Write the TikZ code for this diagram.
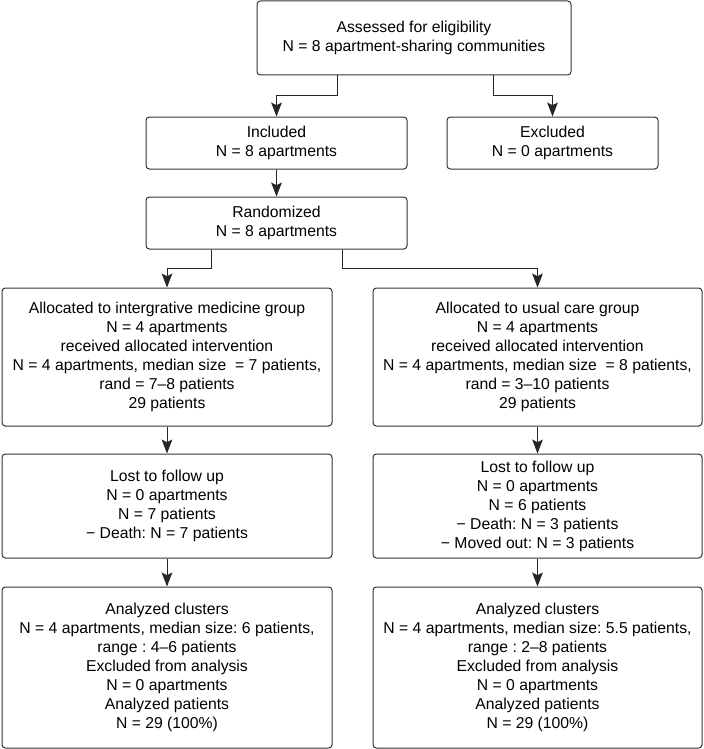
\documentclass[tikz,border=0pt]{standalone}
\usepackage{fontspec}
\setmainfont{Liberation Sans}
\usetikzlibrary{calc,arrows.meta}
\frenchspacing

\tikzset{
	flowbox/.style={draw=black!80, line width=0.75pt, rounded corners=2.5pt, fill=white,
		align=center, inner sep=0pt, font=\fontsize{11.8}{14.25}\selectfont},
	flowarrow/.style={draw=black!85, line width=0.75pt, -{Stealth[length=10.5pt,width=8pt,inset=2pt]}}
}

\begin{document}
\begin{tikzpicture}[x=0.75pt, y=0.75pt]
		%%%%% START %%%%%
		
		\useasboundingbox (0, 0) rectangle (703, -749);
		
		\node[flowbox, minimum width=235.5pt, minimum height=55.5pt] (assess) at (414, -38)
			{Assessed for eligibility\\N = 8 apartment-sharing communities};
		
		\node[flowbox, minimum width=195.75pt, minimum height=39pt] (incl) at (276.5, -143)
			{Included\\N = 8 apartments};
		\node[flowbox, minimum width=158.25pt, minimum height=39pt] (excl) at (552.5, -143)
			{Excluded\\N = 0 apartments};
		
		\node[flowbox, minimum width=195.75pt, minimum height=39pt] (rand) at (276.5, -223)
			{Randomized\\N = 8 apartments};
		
		\node[flowbox, minimum width=247.5pt, minimum height=103.5pt] (allocL) at (167, -357)
			{Allocated to intergrative medicine group\\N = 4 apartments\\received allocated intervention\\
			 N = 4 apartments, median size\ \ = 7 patients,\\rand = 7–8 patients\\29 patients};
		\node[flowbox, minimum width=246.75pt, minimum height=103.5pt] (allocR) at (537.5, -357)
			{Allocated to usual care group\\N = 4 apartments\\received allocated intervention\\
			 N = 4 apartments, median size\ \ = 8 patients,\\rand = 3–10 patients\\29 patients};
		
		\node[flowbox, minimum width=247.5pt, minimum height=78pt] (lostL) at (167, -506)
			{Lost to follow up\\N = 0 apartments\\N = 7 patients\\− Death: N = 7 patients};
		\node[flowbox, minimum width=246.75pt, minimum height=78pt] (lostR) at (537.5, -506)
			{Lost to follow up\\N = 0 apartments\\N = 6 patients\\− Death: N = 3 patients\\− Moved out: N = 3 patients};
		
		\node[flowbox, minimum width=247.5pt, minimum height=120.75pt] (anaL) at (167, -667.5)
			{Analyzed clusters\\N = 4 apartments, median size: 6 patients,\\range : 4–6 patients\\
			 Excluded from analysis\\N = 0 apartments\\Analyzed patients\\N = 29 (100\%)};
		\node[flowbox, minimum width=246.75pt, minimum height=120.75pt] (anaR) at (537.5, -667.5)
			{Analyzed clusters\\N = 4 apartments, median size: 5.5 patients,\\range : 2–8 patients\\
			 Excluded from analysis\\N = 0 apartments\\Analyzed patients\\N = 29 (100\%)};
		
		% connectors
		\draw[flowarrow] ($(assess.south)+(-77, 0)$) -- ++(0, -20) -| (incl.north);
		\draw[flowarrow] ($(assess.south)+(79, 0)$) -- ++(0, -20) -| (excl.north);
		\draw[flowarrow] (incl.south) -- (rand.north);
		
		\draw[flowarrow] ($(rand.south)+(-65.5, 0)$) -- ++(0, -19) -| (allocL.north);
		\draw[flowarrow] ($(rand.south)+(65.5, 0)$) -- ++(0, -19) -| (allocR.north);
		
		\draw[flowarrow] (allocL.south) -- (lostL.north);
		\draw[flowarrow] (allocR.south) -- (lostR.north);
		\draw[flowarrow] (lostL.south) -- (anaL.north);
		\draw[flowarrow] (lostR.south) -- (anaR.north);
		
		%%%%% END %%%%%
\end{tikzpicture}
\end{document}
